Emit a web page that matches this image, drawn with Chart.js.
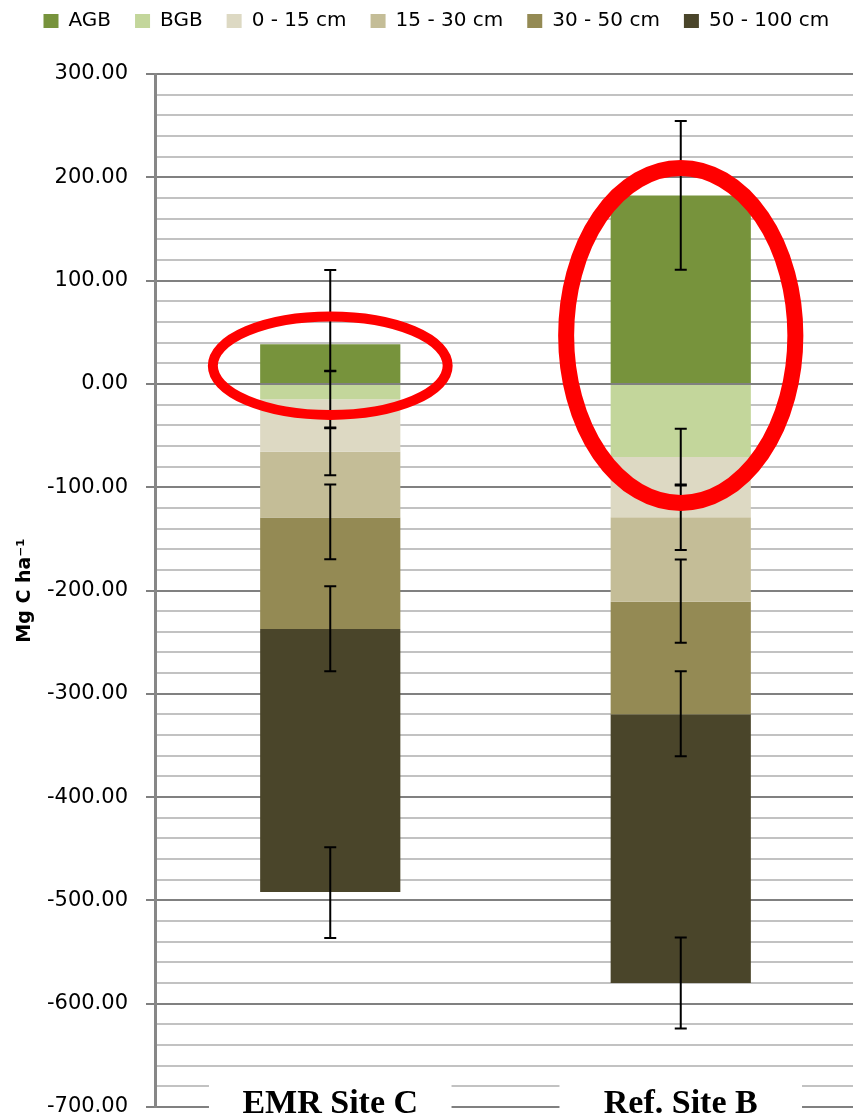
<!DOCTYPE html>
<html>
<head>
<meta charset="utf-8">
<title>Carbon stocks by pool</title>
<script src="https://cdn.jsdelivr.net/npm/chart.js@4.4.1/dist/chart.umd.min.js"></script>
<style>
  html, body { margin: 0; padding: 0; background: #fff; overflow: hidden; }
  #wrap { width: 853px; height: 1119px; overflow: hidden; position: relative; }
  canvas { display: block; }
</style>
</head>
<body>
<div id="wrap"><canvas id="chart" width="857" height="1119"></canvas></div>
<script>
// Sites on the category axis
const sites = ['EMR Site C', 'Ref. Site B'];

// Carbon pools (Mg C ha-1): biomass above zero, below-ground pools below zero
const agb       = [38.3, 182.5];
const bgb       = [-14.8, -70.8];
const soil0_15  = [-50.9, -58.3];
const soil15_30 = [-63.7, -81.7];
const soil30_50 = [-107.9, -109.1];
const soil50_100 = [-254.6, -260.1];

// Error bars per site as [plus, minus]
const agbErr       = [[72, 26], [72, 72]];
const bgbErr       = [[27.5, 27.5], [27.5, 27.5]];
const soil0_15Err  = [[22.7, 22.7], [31.6, 31.6]];
const soil15_30Err = [[32.1, 40.3], [40.9, 39.7]];
const soil30_50Err = [[41.5, 40.9], [41.7, 40.6]];
const soil50_100Err = [[43.4, 44.4], [44, 44]];

// Value axis range and tick spacing
const yMin = -700;
const yMax = 300;
const yMajorStep = 100;
const yMinorStep = 20;

const pools = [
  { label: 'AGB',         data: agb,        err: agbErr,        color: '#77933C' },
  { label: 'BGB',         data: bgb,        err: bgbErr,        color: '#C3D69B' },
  { label: '0 - 15 cm',   data: soil0_15,   err: soil0_15Err,   color: '#DDD9C3' },
  { label: '15 - 30 cm',  data: soil15_30,  err: soil15_30Err,  color: '#C4BD97' },
  { label: '30 - 50 cm',  data: soil30_50,  err: soil30_50Err,  color: '#948A54' },
  { label: '50 - 100 cm', data: soil50_100, err: soil50_100Err, color: '#4A452A' }
];

// Red rings marking the biomass pools (value units / fraction of a category)
const highlights = [
  { site: 0, centre: 17.6, halfHeight: 47.6,  halfWidth: 0.335, stroke: 10 },
  { site: 1, centre: 46.9, halfHeight: 162.1, halfWidth: 0.327, stroke: 16 }
];

const isMajor = v => Math.abs(Math.round(v) % yMajorStep) === 0;
const MAJOR = '#808080';
const MINOR = '#c2c2c2';

const overlay = {
  id: 'overlay',
  afterDatasetsDraw(chart) {
    const ctx = chart.ctx;
    const xs = chart.scales.x;
    const ys = chart.scales.y;
    const area = chart.chartArea;
    const catW = xs.width / sites.length;

    ctx.save();
    // white panels behind the category names
    ctx.fillStyle = '#ffffff';
    sites.forEach((s, i) => {
      const cx = xs.getPixelForValue(i);
      const hw = catW * 0.346;
      ctx.fillRect(cx - hw, area.bottom - 30, hw * 2, chart.height - area.bottom + 30);
    });

    // error bars at the end of each stacked segment
    const pos = sites.map(() => 0);
    const neg = sites.map(() => 0);
    ctx.strokeStyle = '#000';
    ctx.lineWidth = 2;
    pools.forEach((p, d) => {
      const meta = chart.getDatasetMeta(d);
      p.data.forEach((v, i) => {
        let end;
        if (v >= 0) { pos[i] += v; end = pos[i]; } else { neg[i] += v; end = neg[i]; }
        const [up, down] = p.err[i];
        const x = meta.data[i].x;
        const yTop = ys.getPixelForValue(end + up);
        const yBot = ys.getPixelForValue(end - down);
        ctx.beginPath();
        ctx.moveTo(x, yTop); ctx.lineTo(x, yBot);
        ctx.moveTo(x - 6, yTop); ctx.lineTo(x + 6, yTop);
        ctx.moveTo(x - 6, yBot); ctx.lineTo(x + 6, yBot);
        ctx.stroke();
      });
    });

    // highlight rings
    ctx.strokeStyle = '#ff0000';
    highlights.forEach(h => {
      const cx = xs.getPixelForValue(h.site);
      const cy = ys.getPixelForValue(h.centre);
      const ry = Math.abs(ys.getPixelForValue(h.centre + h.halfHeight) - cy);
      const rx = catW * h.halfWidth;
      ctx.lineWidth = h.stroke;
      ctx.beginPath();
      ctx.ellipse(cx, cy, rx, ry, 0, 0, Math.PI * 2);
      ctx.stroke();
    });
    ctx.restore();
  }
};

new Chart(document.getElementById('chart'), {
  type: 'bar',
  data: {
    labels: sites,
    datasets: pools.map(p => ({
      label: p.label,
      data: p.data,
      backgroundColor: p.color,
      borderWidth: 0,
      categoryPercentage: 1,
      barPercentage: 0.4
    }))
  },
  options: {
    responsive: false,
    animation: false,
    devicePixelRatio: 1,
    layout: { padding: { top: -13, left: 16.8, right: 1, bottom: 0 } },
    plugins: {
      legend: {
        position: 'top',
        labels: {
          boxWidth: 15,
          boxHeight: 14,
          padding: 24,
          color: '#000',
          font: { family: 'DejaVu Sans', size: 20 }
        }
      },
      tooltip: { enabled: false }
    },
    scales: {
      x: {
        stacked: true,
        grid: { display: false, drawTicks: false },
        border: { display: false },
        ticks: {
          z: 1,
          mirror: true,
          padding: -17.8,
          color: '#000',
          font: { family: 'Liberation Serif', size: 34, weight: 'bold' }
        },
        afterFit(s) { s.height = 12; }
      },
      xTop: {
        type: 'category',
        position: 'top',
        display: true,
        grid: { display: false },
        border: { display: false },
        ticks: { display: false },
        afterFit(s) { s.height = 33; }
      },
      y: {
        stacked: true,
        min: yMin,
        max: yMax,
        ticks: {
          stepSize: yMinorStep,
          autoSkip: false,
          padding: 18,
          color: '#000',
          font: { family: 'DejaVu Sans', size: 21 },
          callback: v => isMajor(v) ? Number(v).toFixed(2) : ''
        },
        grid: {
          lineWidth: 2,
          tickLength: 9,
          color: c => isMajor(c.tick.value) ? MAJOR : MINOR,
          tickColor: c => isMajor(c.tick.value) ? MAJOR : 'rgba(0,0,0,0)'
        },
        border: { color: '#878787', width: 3 },
        title: {
          display: true,
          text: 'Mg C ha⁻¹',
          color: '#000',
          font: { family: 'DejaVu Sans', size: 19, weight: 'bold', lineHeight: 0.9 },
          padding: { top: 0, bottom: 0 }
        },
        afterFit(s) {
          s.width = 138.2;
          s.paddingTop = 0;
          s.paddingBottom = 0;
        }
      }
    }
  },
  plugins: [overlay]
});
</script>
</body>
</html>
